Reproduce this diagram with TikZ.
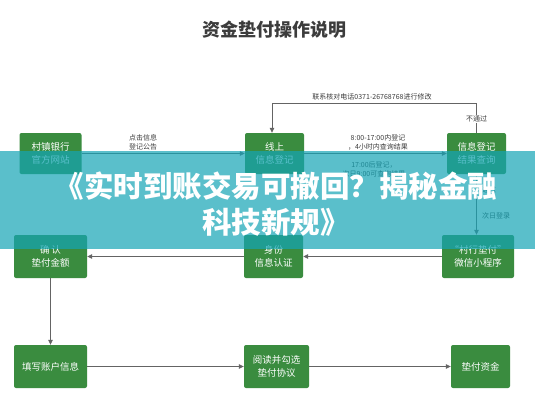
\documentclass[tikz,border=0pt]{standalone}
\usepackage{fontspec}
\setmainfont{Noto Sans CJK SC}
\newfontfamily\cjk{Noto Sans CJK SC}
\usetikzlibrary{arrows.meta}
\definecolor{boxgreen}{RGB}{58,140,63}
\definecolor{linegray}{RGB}{100,100,100}
\definecolor{txtgray}{RGB}{60,60,60}
\definecolor{bannerteal}{RGB}{20,165,182}
\begin{document}
\begin{tikzpicture}[x=1pt,y=-1pt,
  box/.style={fill=boxgreen, rounded corners=2pt, text=white, align=center, inner sep=0pt,
    font=\cjk\fontsize{9.5}{13}\selectfont},
  arr/.style={draw=linegray, line width=0.8pt, -{Triangle[length=5pt,width=4.5pt]}},
  lbl/.style={text=txtgray, align=center, inner sep=1pt, font=\cjk\fontsize{7}{9}\selectfont}]
\useasboundingbox (0,0) rectangle (535,400);
\fill[white] (0,0) rectangle (535,400);
% title
\node[text=txtgray, font=\cjk\bfseries\fontsize{18}{21}\selectfont] (title) at (274,30) {资金垫付操作说明};
% row 1
\node[box, minimum width=62, minimum height=41] (a) at (50.5,153.5) {村镇银行\\官方网站};
\node[box, minimum width=59, minimum height=41] (b) at (274.5,153.5) {线上\\信息登记};
\node[box, minimum width=59, minimum height=41] (c) at (476.5,153.5) {信息登记\\结果查询};
% row 2
\node[box, minimum width=72, minimum height=43] (d) at (478,256.5) {“村行垫付”\\微信小程序};
\node[box, minimum width=59, minimum height=43] (e) at (273.5,256.5) {身份\\信息认证};
\node[box, minimum width=73, minimum height=43] (f) at (50.5,256.5) {确\,认\\垫付金额};
% row 3
\node[box, minimum width=73, minimum height=43] (g) at (50.5,366.5) {填写账户信息};
\node[box, minimum width=65, minimum height=43] (h) at (276.5,366.5) {阅读并勾选\\垫付协议};
\node[box, minimum width=59, minimum height=43] (i) at (480.5,366.5) {垫付资金};
% connectors
\draw[arr] (a) -- (b);
\node[lbl] (la) at (143,142) {点击信息\\登记公告};
\draw[arr] (b) -- (c);
\node[lbl] (lb1) at (378,142) {8:00-17:00内登记\\，4小时内查询结果};
\node[lbl] (lb2) at (374,169) {17:00后登记，\\次日9:00可查询结果};
\coordinate (tr) at (476.5,103);
\coordinate (tl) at (272,103);
\draw[arr] (c.north) -- (tr) -- (tl) -- (tl |- b.north);
\node[lbl] (lt) at (372,97) {联系核对电话0371-26768768进行修改};
\node[lbl, fill=white] (lno) at (476.5,119) {不通过};
\draw[arr] (c.south) -- (c.south |- d.north);
\node[lbl, anchor=west] (lyes) at (481,190) {通过};
\node[lbl, anchor=west] (lnext) at (481,216) {次日登录};
\draw[arr] (d) -- (e);
\draw[arr] (e) -- (f);
\draw[arr] (f) -- (g);
\draw[arr] (g) -- (h);
\draw[arr] (h) -- (i);
% banner overlay
\fill[bannerteal, opacity=0.7] (0,151) rectangle (535,249);
\node[text=white, align=center, font=\cjk\bfseries\fontsize{29.5}{36}\selectfont] (banner) at (276,204) {《实时到账交易可撤回？揭秘金融\\科技新规》};
\end{tikzpicture}
\end{document}
